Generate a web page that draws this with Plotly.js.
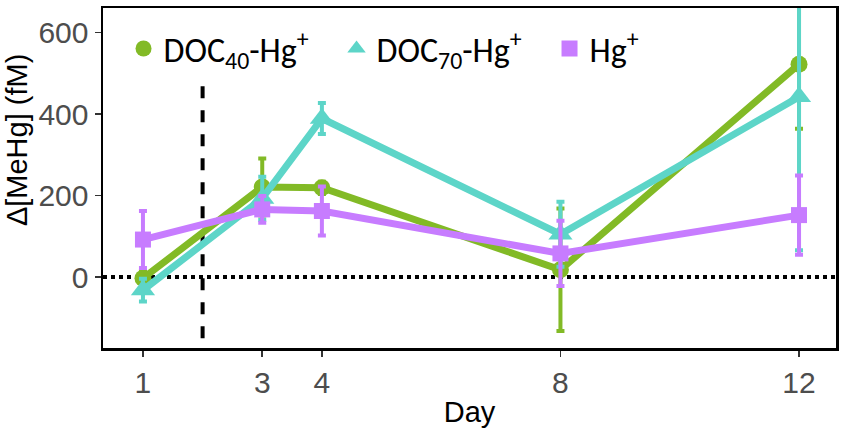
<!DOCTYPE html>
<html>
<head>
<meta charset="utf-8">
<script src="https://cdn.plot.ly/plotly-3.0.1.min.js"></script>
<style>html,body{margin:0;padding:0;background:#fff;}#chart{width:850px;height:428px;}</style>
</head>
<body>
<div id="chart"></div>
<script>
const days = [1, 3, 4, 8, 12];
const tickDays = [1, 3, 4, 8, 12];
const yTicks = [0, 200, 400, 600];

const seriesNames = ["DOC<sub>40</sub>-Hg<sup>+</sup>", "DOC<sub>70</sub>-Hg<sup>+</sup>", "Hg<sup>+</sup>"];
const doc40 = [-3, 221, 219, 18, 522];
const doc40Err = [18, 70, 15, 150, 158];
const doc70 = [-32, 193, 389, 105, 442];
const doc70Err = [28, 53, 38, 80, 376];
const hg = [92, 166, 162, 58, 152];
const hgErr = [70, 33, 60, 80, 97];

const treatmentDay = 2;
const treatmentSpan = [-150, 470];
const zeroLevel = 0;
const yTitle = "Δ[MeHg] (fM)";
const xTitle = "Day";

const colors = ["#82BA26", "#5DD5C8", "#C77CFF"];
const symbols = ["circle", "triangle-up", "square"];
const msizes = [17, 21, 16];
const values = [doc40, doc70, hg];
const errs = [doc40Err, doc70Err, hgErr];

const traces = values.map((v, i) => ({
  x: days, y: v, name: seriesNames[i], type: "scatter", mode: "lines+markers",
  showlegend: false,
  line: {color: colors[i], width: 7},
  marker: {color: colors[i], symbol: symbols[i], size: msizes[i]},
  error_y: {type: "data", array: errs[i], visible: true, color: colors[i], thickness: 4, width: 4}
}));
const legendTraces = seriesNames.map((n, i) => ({
  x: [null], y: [null], name: n, type: "scatter", mode: "markers", showlegend: true,
  marker: {color: colors[i], symbol: symbols[i], size: 22}
}));

const tickFont = {family: "Liberation Sans, Arial, sans-serif", size: 30, color: "#4d4d4d"};
const titleFont = {family: "Liberation Sans, Arial, sans-serif", size: 29, color: "#000"};

const layout = {
  width: 850, height: 428,
  margin: {l: 103, r: 14, t: 8, b: 80},
  paper_bgcolor: "#fff", plot_bgcolor: "#fff",
  showlegend: true,
  legend: {orientation: "h", x: 0.028, y: 0.965, xanchor: "left", yanchor: "top",
    font: {family: "Carlito, 'Open Sans', sans-serif", size: 34, color: "#000"},
    bgcolor: "rgba(0,0,0,0)", itemwidth: 30, tracegroupgap: 0,
    entrywidth: 168, entrywidthmode: "pixels"},
  xaxis: {range: [0.33, 12.62], tickvals: tickDays, ticktext: tickDays.map(String),
    showgrid: false, zeroline: false, showline: true, mirror: true, linecolor: "#000", linewidth: 2.5,
    ticks: "outside", ticklen: 6, tickwidth: 1.5, tickcolor: "#333",
    tickfont: tickFont,
    title: {text: xTitle, font: titleFont, standoff: 6}},
  yaxis: {range: [-174, 660], tickvals: yTicks, ticktext: yTicks.map(String),
    showgrid: false, zeroline: false, showline: true, mirror: true, linecolor: "#000", linewidth: 2.5,
    ticks: "outside", ticklen: 6, tickwidth: 1.5, tickcolor: "#333",
    tickfont: tickFont},
  annotations: [
    {text: yTitle, xref: "paper", yref: "paper", x: -0.118, y: 0.61, xanchor: "center", yanchor: "middle",
      textangle: -90, showarrow: false, font: titleFont}
  ],
  shapes: [
    {type: "line", xref: "paper", x0: 0, x1: 1, yref: "y", y0: zeroLevel, y1: zeroLevel,
      line: {color: "#000", width: 4, dash: "dot"}, layer: "below"},
    {type: "line", xref: "x", x0: treatmentDay, x1: treatmentDay, yref: "y", y0: treatmentSpan[0], y1: treatmentSpan[1],
      line: {color: "#000", width: 4, dash: "dash"}, layer: "below"}
  ]
};

Plotly.newPlot("chart", traces.concat(legendTraces), layout, {displayModeBar: false, staticPlot: true});
</script>
</body>
</html>
